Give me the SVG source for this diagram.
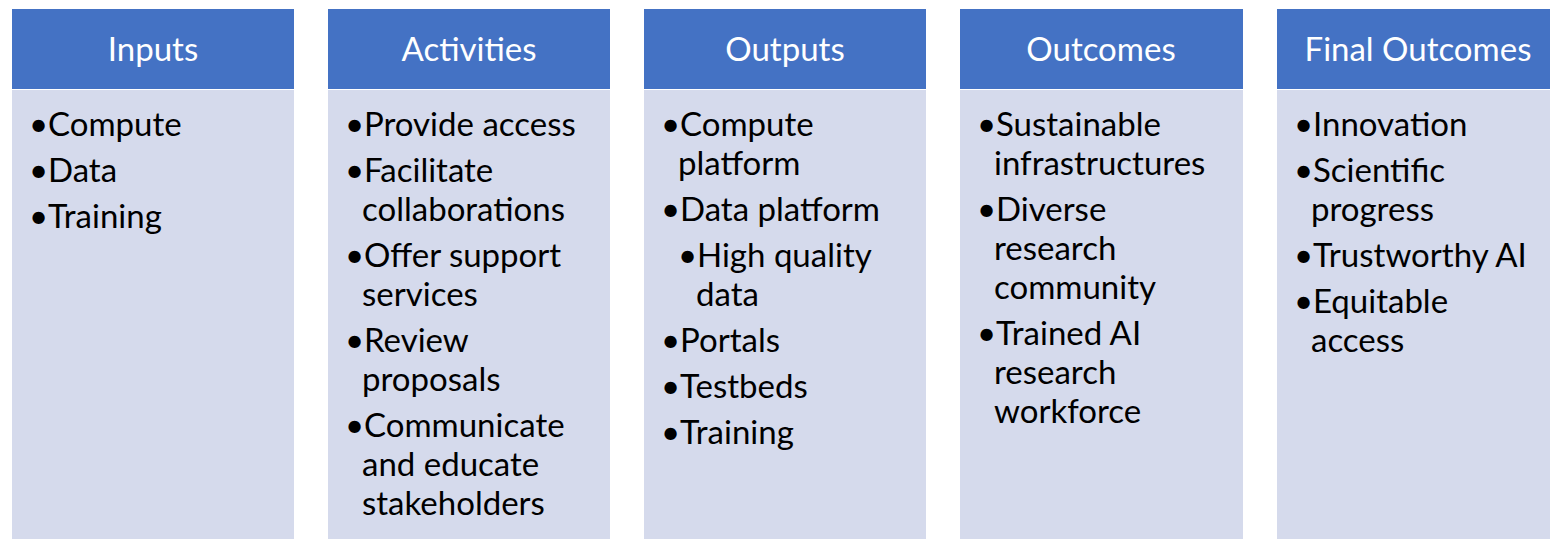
<svg xmlns="http://www.w3.org/2000/svg" width="1550" height="539" viewBox="0 0 1550 539">
<style>
.hd{fill:#4472C4}
.bd{fill:#D5DAEC}
.ht{font-family:Lato,"Open Sans",sans-serif;font-size:33px;fill:#FFFFFF;text-anchor:middle}
.t{font-family:Lato,"Open Sans",sans-serif;font-size:33px;fill:#000000}
</style>
<rect x="0" y="0" width="1550" height="539" fill="#FFFFFF"/>
<g id="inputs">
<rect class="hd" x="12" y="9" width="282" height="80"/>
<rect class="bd" x="12" y="90" width="282" height="449"/>
<text class="ht" x="153" y="61">Inputs</text>
<text class="t" y="136"><tspan x="29">•</tspan><tspan x="48">Compute</tspan></text>
<text class="t" y="182"><tspan x="29">•</tspan><tspan x="48">Data</tspan></text>
<text class="t" y="228"><tspan x="29">•</tspan><tspan x="48">Training</tspan></text>
</g>
<g id="activities">
<rect class="hd" x="328" y="9" width="282" height="80"/>
<rect class="bd" x="328" y="90" width="282" height="449"/>
<text class="ht" x="469" y="61">Activities</text>
<text class="t" y="136"><tspan x="345">•</tspan><tspan x="364">Provide access</tspan></text>
<text class="t" y="182"><tspan x="345">•</tspan><tspan x="364">Facilitate</tspan></text>
<text class="t" x="362" y="221">collaborations</text>
<text class="t" y="267"><tspan x="345">•</tspan><tspan x="364">Offer support</tspan></text>
<text class="t" x="362" y="306">services</text>
<text class="t" y="352"><tspan x="345">•</tspan><tspan x="364">Review</tspan></text>
<text class="t" x="362" y="391">proposals</text>
<text class="t" y="437"><tspan x="345">•</tspan><tspan x="364">Communicate</tspan></text>
<text class="t" x="362" y="476">and educate</text>
<text class="t" x="362" y="515">stakeholders</text>
</g>
<g id="outputs">
<rect class="hd" x="644" y="9" width="282" height="80"/>
<rect class="bd" x="644" y="90" width="282" height="449"/>
<text class="ht" x="785" y="61">Outputs</text>
<text class="t" y="136"><tspan x="661">•</tspan><tspan x="680">Compute</tspan></text>
<text class="t" x="678" y="175">platform</text>
<text class="t" y="221"><tspan x="661">•</tspan><tspan x="680">Data platform</tspan></text>
<text class="t" y="267"><tspan x="678">•</tspan><tspan x="697">High quality</tspan></text>
<text class="t" x="696" y="306">data</text>
<text class="t" y="352"><tspan x="661">•</tspan><tspan x="680">Portals</tspan></text>
<text class="t" y="398"><tspan x="661">•</tspan><tspan x="680">Testbeds</tspan></text>
<text class="t" y="444"><tspan x="661">•</tspan><tspan x="680">Training</tspan></text>
</g>
<g id="outcomes">
<rect class="hd" x="960" y="9" width="283" height="80"/>
<rect class="bd" x="960" y="90" width="283" height="449"/>
<text class="ht" x="1101" y="61">Outcomes</text>
<text class="t" y="136"><tspan x="977">•</tspan><tspan x="996">Sustainable</tspan></text>
<text class="t" x="994" y="175">infrastructures</text>
<text class="t" y="221"><tspan x="977">•</tspan><tspan x="996">Diverse</tspan></text>
<text class="t" x="994" y="260">research</text>
<text class="t" x="994" y="299">community</text>
<text class="t" y="345"><tspan x="977">•</tspan><tspan x="996">Trained AI</tspan></text>
<text class="t" x="994" y="384">research</text>
<text class="t" x="994" y="423">workforce</text>
</g>
<g id="final-outcomes">
<rect class="hd" x="1277" y="9" width="282" height="80"/>
<rect class="bd" x="1277" y="90" width="282" height="449"/>
<text class="ht" x="1418" y="61">Final Outcomes</text>
<text class="t" y="136"><tspan x="1294">•</tspan><tspan x="1313">Innovation</tspan></text>
<text class="t" y="182"><tspan x="1294">•</tspan><tspan x="1313">Scientific</tspan></text>
<text class="t" x="1311" y="221">progress</text>
<text class="t" y="267"><tspan x="1294">•</tspan><tspan x="1313">Trustworthy AI</tspan></text>
<text class="t" y="313"><tspan x="1294">•</tspan><tspan x="1313">Equitable</tspan></text>
<text class="t" x="1311" y="352">access</text>
</g>
<g id="connectors"></g>
</svg>
